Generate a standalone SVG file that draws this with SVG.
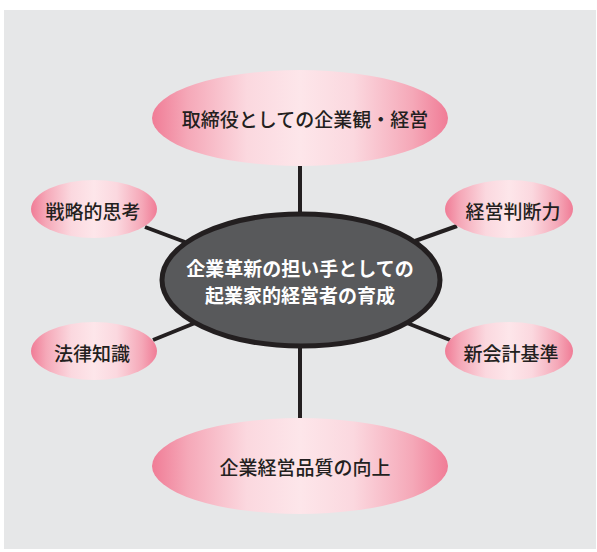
<svg xmlns="http://www.w3.org/2000/svg" width="597" height="552" viewBox="0 0 597 552">
<defs>
<linearGradient id="pink" x1="0" y1="0" x2="1" y2="0">
<stop offset="0" stop-color="#f07c96"/>
<stop offset="0.12" stop-color="#f5a8b8"/>
<stop offset="0.32" stop-color="#fbd8df"/>
<stop offset="0.5" stop-color="#fde6ea"/>
<stop offset="0.68" stop-color="#fbd8df"/>
<stop offset="0.88" stop-color="#f5a8b8"/>
<stop offset="1" stop-color="#f07c96"/>
</linearGradient>
<style>
.pk{fill:url(#pink);}
.lbl{font-family:"Noto Sans CJK JP","Noto Sans CJK SC",sans-serif;font-size:19px;font-weight:500;fill:#231f20;text-anchor:middle;dominant-baseline:central;}
.ctr{font-family:"Noto Sans CJK JP","Noto Sans CJK SC",sans-serif;font-size:19px;font-weight:700;fill:#ffffff;text-anchor:middle;dominant-baseline:central;}
.ln{stroke:#231f20;stroke-width:4;fill:none;}
</style>
</defs>
<rect x="4" y="10" width="592" height="539" fill="#e6e7e8"/>
<g id="connectors">
<line class="ln" x1="300" y1="165" x2="300" y2="215"/>
<line class="ln" x1="300" y1="345" x2="300" y2="418"/>
<line class="ln" x1="145" y1="227" x2="185" y2="242"/>
<line class="ln" x1="153" y1="340" x2="195" y2="323"/>
<line class="ln" x1="415" y1="241" x2="457" y2="226"/>
<line class="ln" x1="407" y1="323" x2="450" y2="340"/>
</g>
<g id="center">
<ellipse cx="301" cy="280" rx="139" ry="66" fill="#58595b" stroke="#231f20" stroke-width="5"/>
<text class="ctr" x="300" y="267">企業革新の担い手としての</text>
<text class="ctr" x="300" y="294">起業家的経営者の育成</text>
</g>
<g id="top">
<ellipse class="pk" cx="300" cy="118" rx="148" ry="48"/>
<text class="lbl" x="305" y="118">取締役としての企業観・経営</text>
</g>
<g id="bottom">
<ellipse class="pk" cx="300" cy="466" rx="148" ry="48"/>
<text class="lbl" x="305" y="466">企業経営品質の向上</text>
</g>
<g id="senryaku">
<ellipse class="pk" cx="94" cy="209" rx="63" ry="29"/>
<text class="lbl" x="93" y="210">戦略的思考</text>
</g>
<g id="houritsu">
<ellipse class="pk" cx="94" cy="351" rx="63" ry="29"/>
<text class="lbl" x="92" y="352">法律知識</text>
</g>
<g id="keiei">
<ellipse class="pk" cx="509" cy="209" rx="64" ry="29"/>
<text class="lbl" x="513" y="210">経営判断力</text>
</g>
<g id="kaikei">
<ellipse class="pk" cx="509" cy="351" rx="64" ry="29"/>
<text class="lbl" x="511" y="352">新会計基準</text>
</g>
</svg>
